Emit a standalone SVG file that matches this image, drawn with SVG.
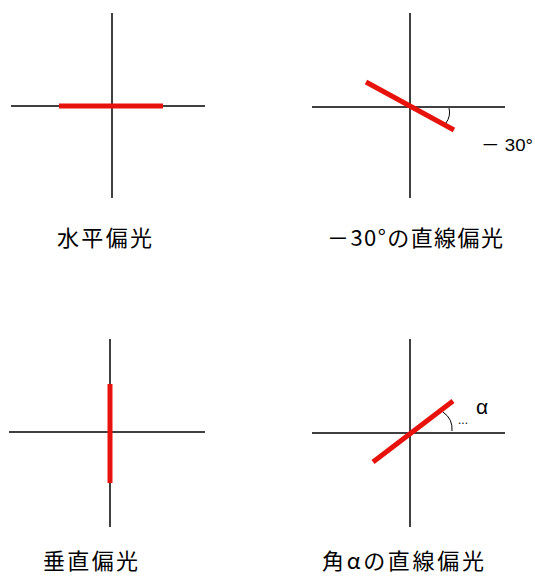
<svg xmlns="http://www.w3.org/2000/svg" width="535" height="576" viewBox="0 0 535 576">
<style>
.ax{stroke:#000;stroke-width:1.5;fill:none}
.pol{stroke:#e8120c;stroke-width:5;stroke-linecap:butt;fill:none}
.arc{stroke:#000;stroke-width:1;fill:none}
.lbl{font-family:"Noto Sans CJK JP","Liberation Sans",sans-serif;font-size:22px;fill:#000}
.sm{font-family:"Liberation Sans","Noto Sans CJK JP",sans-serif;font-size:16px;fill:#000}
</style>
<rect width="535" height="576" fill="#fff"/>
<g id="horizontal">
<line class="ax" x1="112" y1="13" x2="112" y2="198"/>
<line class="ax" x1="11" y1="106" x2="205" y2="106"/>
<line class="pol" x1="59" y1="106" x2="163" y2="106"/>
<text class="lbl" x="57" y="246" textLength="95" lengthAdjust="spacing">水平偏光</text>
</g>
<g id="minus30">
<line class="ax" x1="410" y1="13" x2="410" y2="198"/>
<line class="ax" x1="312" y1="107" x2="505" y2="107"/>
<line class="pol" x1="366" y1="82" x2="454" y2="130"/>
<path class="arc" d="M449,108 Q451,116 446,123"/>
<text class="sm" x="481" y="151" style="font-size:17px" textLength="52" lengthAdjust="spacingAndGlyphs">－ 30°</text>
<text class="lbl" x="327" y="246" textLength="176" lengthAdjust="spacing">－30°の直線偏光</text>
</g>
<g id="vertical">
<line class="ax" x1="110" y1="339" x2="110" y2="527"/>
<line class="ax" x1="9" y1="432" x2="205" y2="432"/>
<line class="pol" x1="110" y1="384" x2="110" y2="483"/>
<text class="lbl" x="43" y="569" textLength="95" lengthAdjust="spacing">垂直偏光</text>
</g>
<g id="alpha">
<line class="ax" x1="410" y1="339" x2="410" y2="527"/>
<line class="ax" x1="312" y1="433" x2="505" y2="433"/>
<line class="pol" x1="373" y1="462" x2="453" y2="401"/>
<path class="arc" d="M443,412 Q453,419 452,431"/>
<text class="sm" x="458" y="424" style="font-size:12px">...</text>
<text class="sm" x="476" y="414" style="font-size:21px">α</text>
<text class="lbl" x="322" y="569" textLength="162" lengthAdjust="spacing">角αの直線偏光</text>
</g>
</svg>
